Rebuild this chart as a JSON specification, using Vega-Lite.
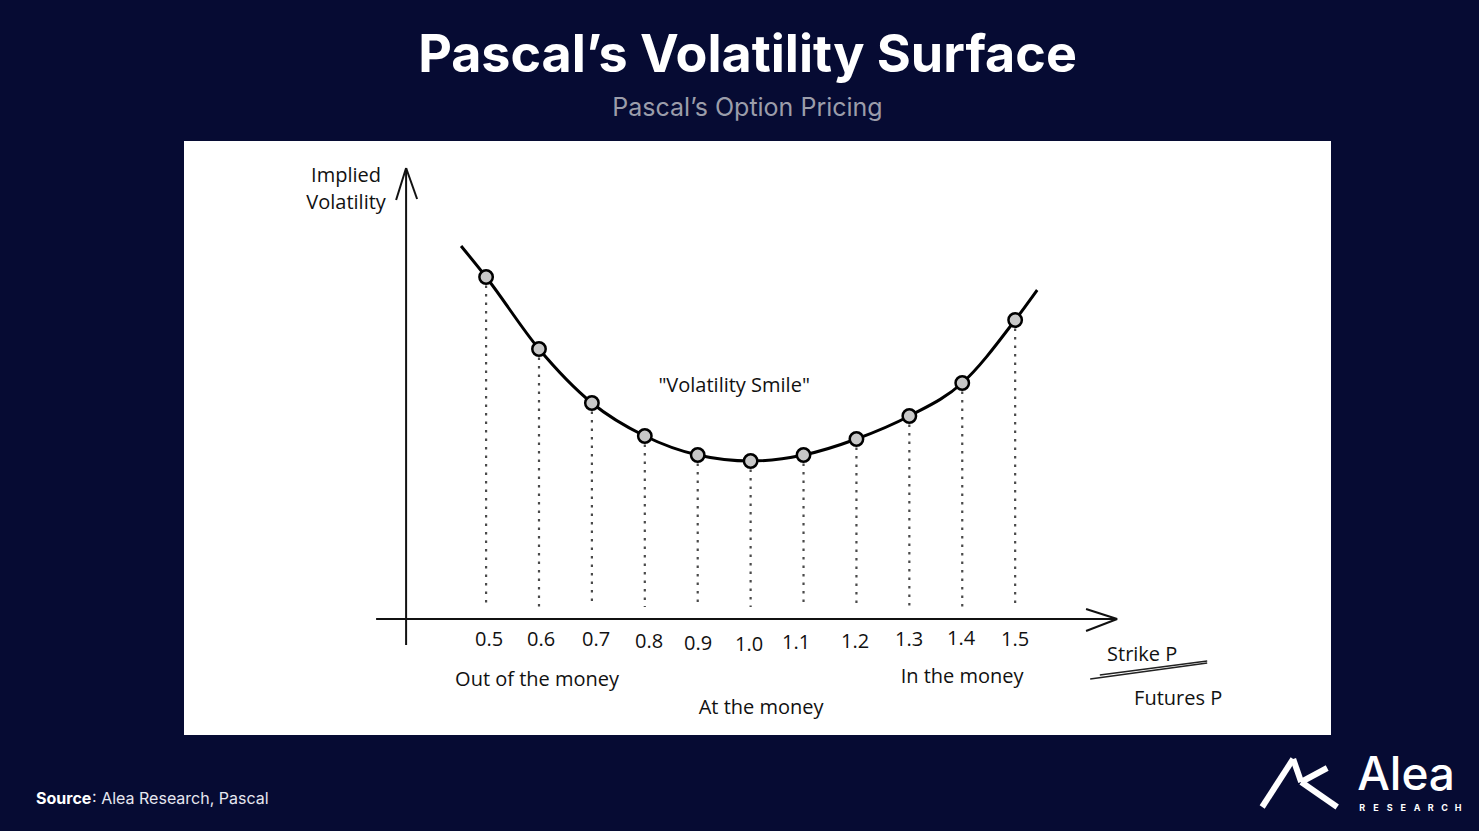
{
  "$schema": "https://vega.github.io/schema/vega-lite/v6.json",
  "autosize": {"type": "none"},
  "width": 1147,
  "height": 594,
  "padding": {"left": 184, "top": 141, "right": 148, "bottom": 96},
  "background": "#060b33",
  "view": {"fill": "#ffffff", "stroke": null},
  "title": {
    "text": "Pascal’s Volatility Surface",
    "subtitle": "Pascal’s Option Pricing",
    "anchor": "middle",
    "dx": -10,
    "font": "Inter",
    "fontSize": 52,
    "fontWeight": "bold",
    "color": "#ffffff",
    "subtitleFont": "Inter",
    "subtitleFontSize": 25,
    "subtitleColor": "#9b9daa",
    "subtitlePadding": 13,
    "offset": 19
  },
  "datasets": {
    "smile": [
      {"x": 0.5, "y": 34.2},
      {"x": 0.6, "y": 27.0},
      {"x": 0.7, "y": 21.6},
      {"x": 0.8, "y": 18.3},
      {"x": 0.9, "y": 16.4},
      {"x": 1.0, "y": 15.8},
      {"x": 1.1, "y": 16.4},
      {"x": 1.2, "y": 18.0},
      {"x": 1.3, "y": 20.3},
      {"x": 1.4, "y": 23.6},
      {"x": 1.5, "y": 29.9}
    ],
    "curve": [
      {"x": 0.4527, "y": 37.3},
      {"x": 0.5, "y": 34.2},
      {"x": 0.6, "y": 27.0},
      {"x": 0.7, "y": 21.6},
      {"x": 0.8, "y": 18.3},
      {"x": 0.9, "y": 16.4},
      {"x": 1.0, "y": 15.8},
      {"x": 1.1, "y": 16.4},
      {"x": 1.2, "y": 18.0},
      {"x": 1.3, "y": 20.3},
      {"x": 1.4, "y": 23.6},
      {"x": 1.5, "y": 29.9},
      {"x": 1.5416, "y": 32.9}
    ],
    "axes": [
      {"part": "y axis", "x": 0.3488, "y": -2.6, "x2": 0.3488, "y2": 45.1},
      {"part": "y arrow left", "x": 0.3488, "y": 45.1, "x2": 0.3299, "y2": 41.9},
      {"part": "y arrow right", "x": 0.3488, "y": 45.1, "x2": 0.3696, "y2": 42.0},
      {"part": "x axis", "x": 0.2921, "y": 0.0, "x2": 1.6928, "y2": 0.0},
      {"part": "x arrow upper", "x": 1.6928, "y": 0.0, "x2": 1.634, "y2": 1.0},
      {"part": "x arrow lower", "x": 1.6928, "y": 0.0, "x2": 1.634, "y2": -1.2}
    ],
    "fraction": [
      {"x": 1.6418, "y": -6.0, "x2": 1.863, "y2": -4.4},
      {"x": 1.66, "y": -5.6, "x2": 1.863, "y2": -4.2}
    ],
    "logo": [
      {"x": 1.9669, "y": -18.8, "x2": 2.0255, "y2": -14.0},
      {"x": 2.0255, "y": -14.0, "x2": 2.0406, "y2": -16.3},
      {"x": 2.0406, "y": -16.3, "x2": 2.0898, "y2": -14.9},
      {"x": 2.0406, "y": -16.3, "x2": 2.1087, "y2": -18.8}
    ],
    "labels": [
      {"text": "Implied", "x": 0.2353, "y": 44.3},
      {"text": "Volatility", "x": 0.2353, "y": 41.6},
      {"text": "\"Volatility Smile\"", "x": 0.9688, "y": 23.3},
      {"text": "0.5", "x": 0.5057, "y": -2.1},
      {"text": "0.6", "x": 0.604, "y": -2.1},
      {"text": "0.7", "x": 0.7079, "y": -2.1},
      {"text": "0.8", "x": 0.8081, "y": -2.3},
      {"text": "0.9", "x": 0.9008, "y": -2.5},
      {"text": "1.0", "x": 0.9972, "y": -2.6},
      {"text": "1.1", "x": 1.086, "y": -2.4},
      {"text": "1.2", "x": 1.1975, "y": -2.3},
      {"text": "1.3", "x": 1.2996, "y": -2.1},
      {"text": "1.4", "x": 1.3979, "y": -2.0},
      {"text": "1.5", "x": 1.5, "y": -2.1},
      {"text": "Out of the money", "x": 0.5964, "y": -6.1},
      {"text": "At the money", "x": 1.0198, "y": -8.9},
      {"text": "In the money", "x": 1.3998, "y": -5.8},
      {"text": "Strike P", "x": 1.7401, "y": -3.6},
      {"text": "Futures P", "x": 1.8081, "y": -8.0}
    ],
    "sourceBold": [{"text": "Source", "x": -0.3507, "y": -18.0}],
    "sourceRest": [{"text": ": Alea Research, Pascal", "x": -0.2448, "y": -18.0}],
    "brand": [{"text": "Alea", "x": 2.1465, "y": -17.1}],
    "brandSub": [
      {"text": "R", "x": 2.156, "y": -18.9},
      {"text": "E", "x": 2.1819, "y": -18.9},
      {"text": "S", "x": 2.2078, "y": -18.9},
      {"text": "E", "x": 2.2336, "y": -18.9},
      {"text": "A", "x": 2.2597, "y": -18.9},
      {"text": "R", "x": 2.2856, "y": -18.9},
      {"text": "C", "x": 2.3115, "y": -18.9},
      {"text": "H", "x": 2.3374, "y": -18.9}
    ]
  },
  "encoding": {
    "x": {"field": "x", "type": "quantitative", "scale": {"domain": [-0.071, 2.097], "nice": false, "zero": false}, "axis": null},
    "y": {"field": "y", "type": "quantitative", "scale": {"domain": [-11.6, 47.8], "nice": false, "zero": false}, "axis": null}
  },
  "layer": [
    {
      "data": {"name": "axes"},
      "mark": {"type": "rule", "color": "#111111", "strokeWidth": 2},
      "encoding": {"x2": {"field": "x2"}, "y2": {"field": "y2"}}
    },
    {
      "data": {"name": "fraction"},
      "mark": {"type": "rule", "color": "#222222", "strokeWidth": 1.6},
      "encoding": {"x2": {"field": "x2"}, "y2": {"field": "y2"}}
    },
    {
      "data": {"name": "smile"},
      "mark": {"type": "rule", "color": "#4a4a4a", "strokeWidth": 2.2, "strokeDash": [2.5, 6]},
      "encoding": {"y2": {"datum": 1.2}}
    },
    {
      "data": {"name": "curve"},
      "mark": {"type": "line", "color": "#000000", "strokeWidth": 3, "interpolate": "monotone"},
      "encoding": {}
    },
    {
      "data": {"name": "smile"},
      "mark": {"type": "point", "shape": "circle", "filled": false, "fill": "#c8c8c8", "fillOpacity": 1, "stroke": "#000000", "strokeWidth": 2.5, "size": 180, "opacity": 1}
    },
    {
      "data": {"name": "labels"},
      "mark": {"type": "text", "font": "Open Sans", "fontSize": 20, "color": "#111111", "align": "center", "baseline": "middle"},
      "encoding": {"text": {"field": "text"}}
    },
    {
      "data": {"name": "sourceBold"},
      "mark": {"type": "text", "font": "Inter", "fontSize": 16, "fontWeight": "bold", "color": "#ffffff", "align": "left", "baseline": "middle"},
      "encoding": {"text": {"field": "text"}}
    },
    {
      "data": {"name": "sourceRest"},
      "mark": {"type": "text", "font": "Inter", "fontSize": 16, "color": "#e6e7f0", "align": "left", "baseline": "middle"},
      "encoding": {"text": {"field": "text"}}
    },
    {
      "data": {"name": "logo"},
      "mark": {"type": "rule", "color": "#ffffff", "strokeWidth": 6},
      "encoding": {"x2": {"field": "x2"}, "y2": {"field": "y2"}}
    },
    {
      "data": {"name": "brand"},
      "mark": {"type": "text", "font": "Inter", "fontSize": 46, "fontWeight": 500, "color": "#ffffff", "align": "left", "baseline": "alphabetic"},
      "encoding": {"text": {"field": "text"}}
    },
    {
      "data": {"name": "brandSub"},
      "mark": {"type": "text", "font": "Inter", "fontSize": 9, "fontWeight": "bold", "color": "#ffffff", "align": "center", "baseline": "middle"},
      "encoding": {"text": {"field": "text"}}
    }
  ]
}
